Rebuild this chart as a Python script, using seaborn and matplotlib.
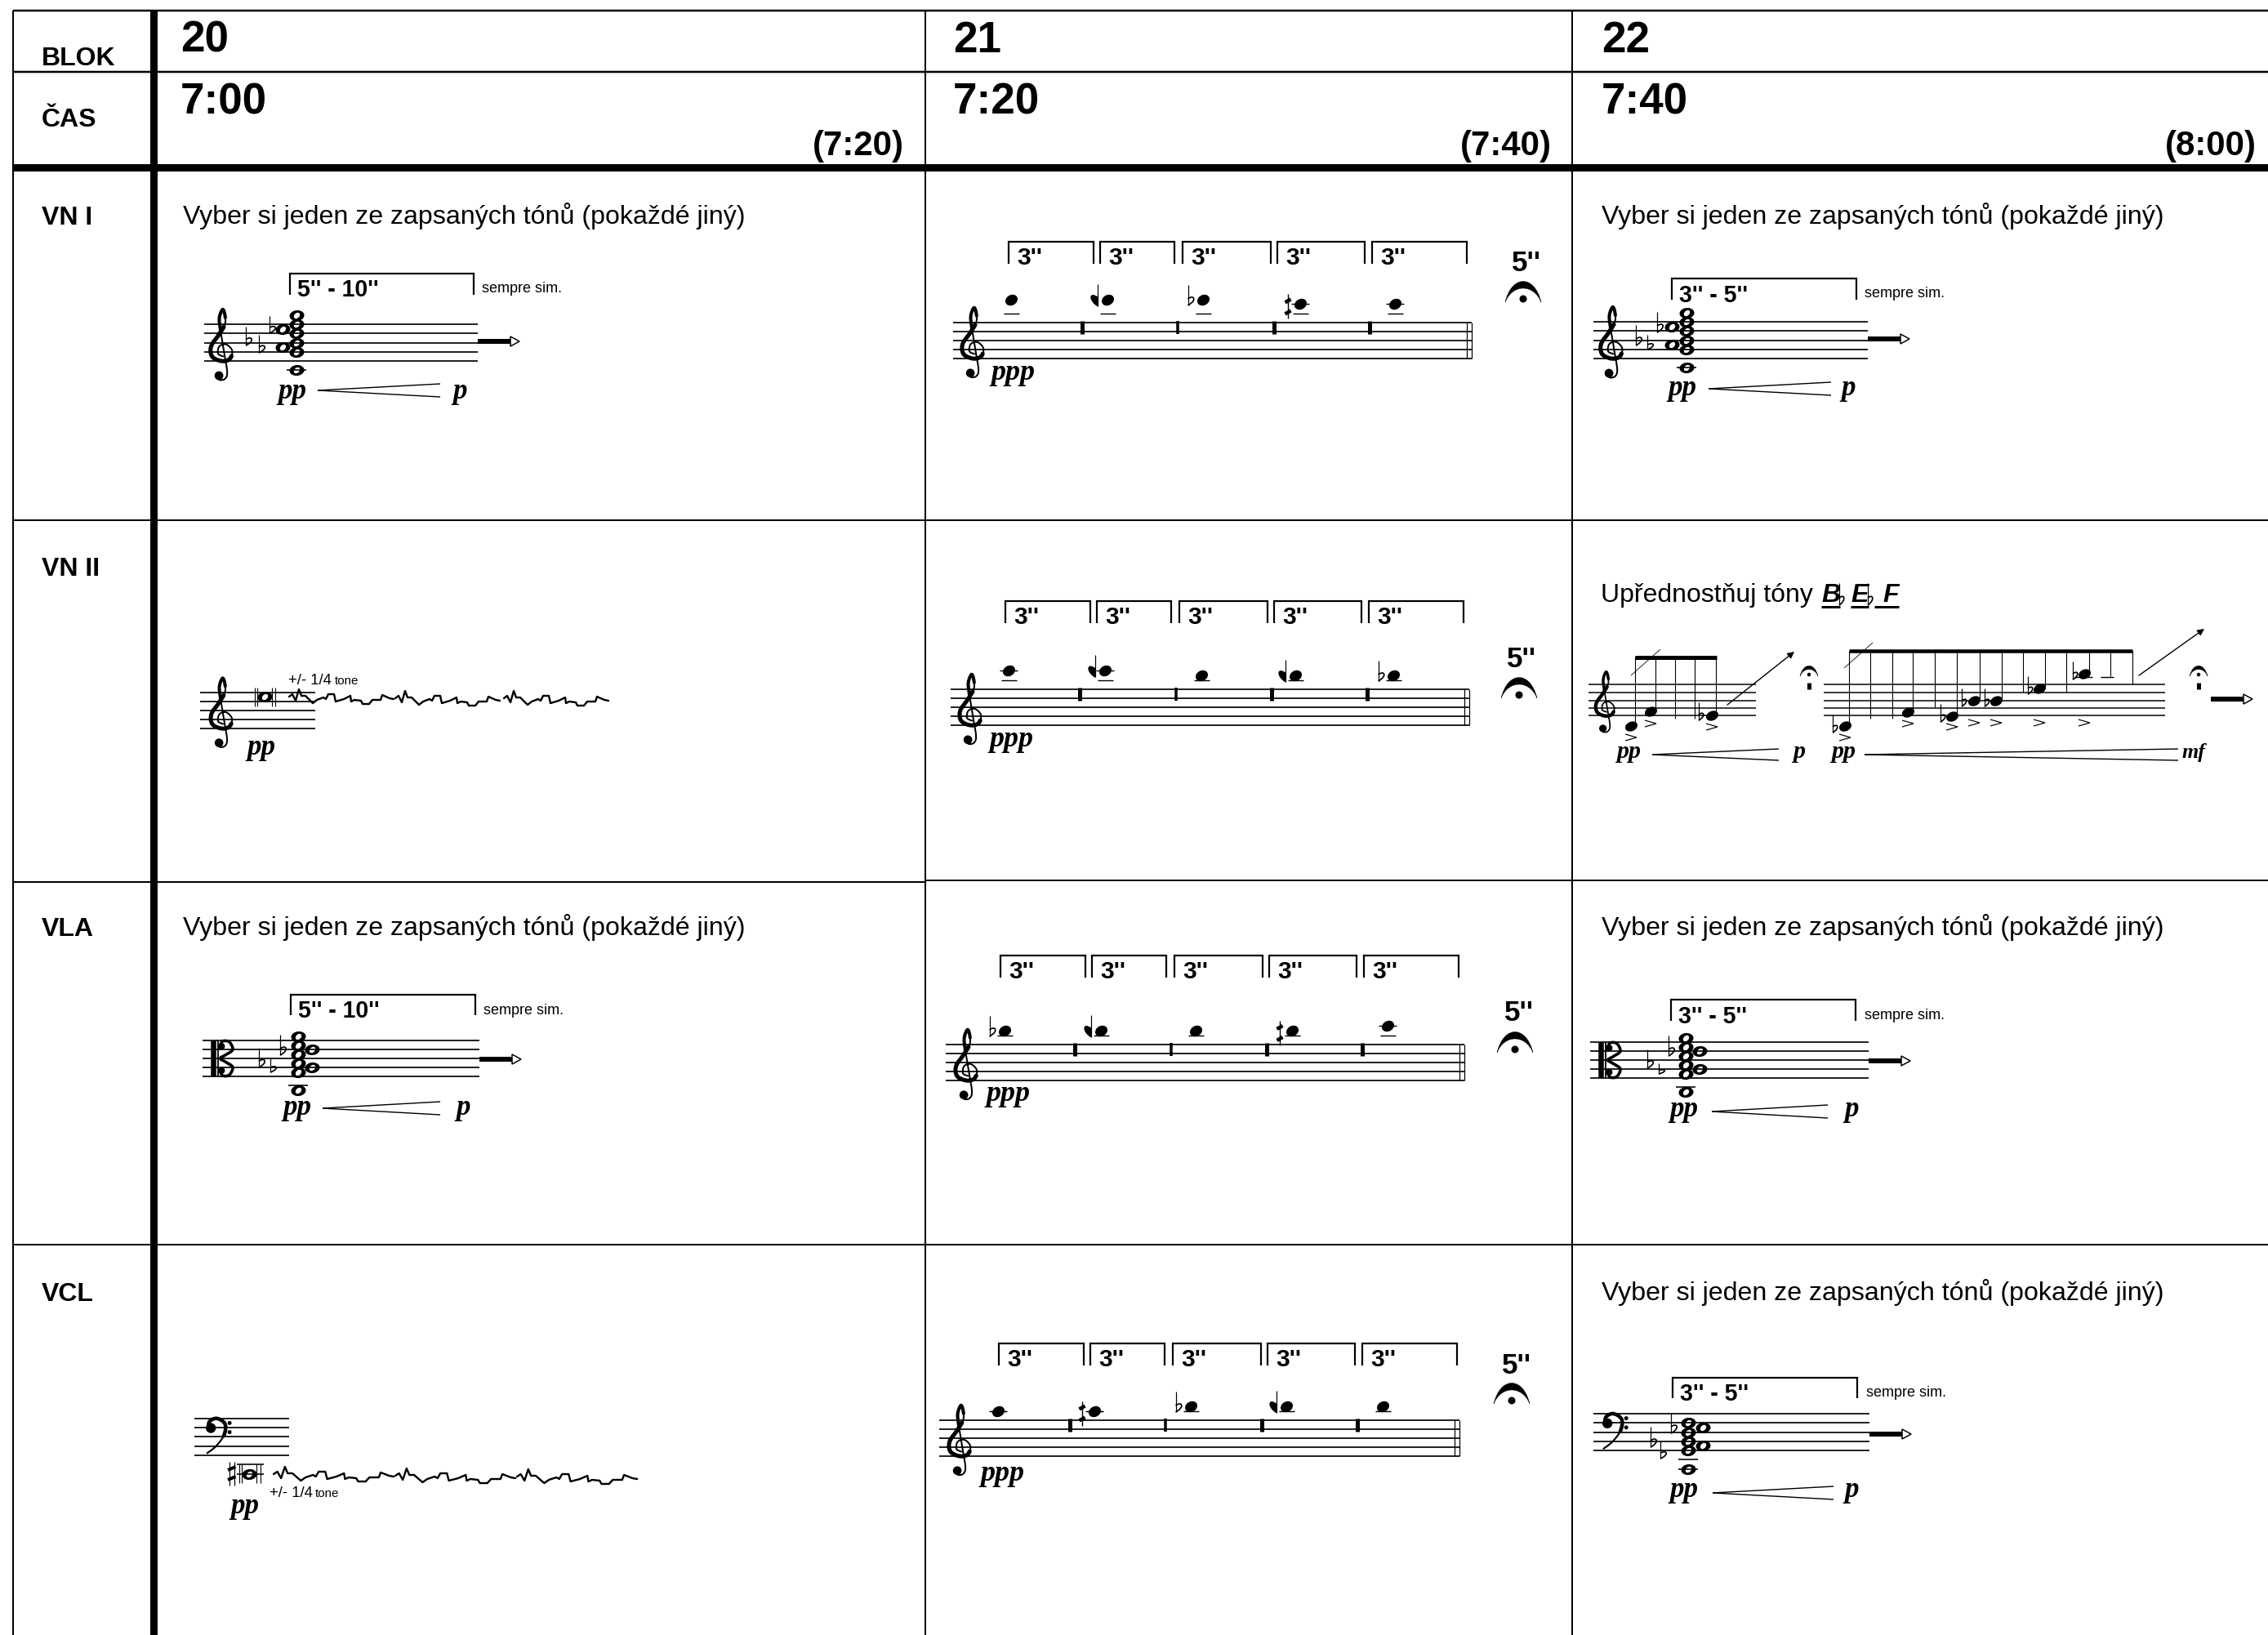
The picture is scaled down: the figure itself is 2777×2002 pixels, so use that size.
import numpy as np
import pandas as pd
import seaborn as sns
import matplotlib.pyplot as plt
from matplotlib.path import Path
from matplotlib.patches import PathPatch, Polygon, Circle
from matplotlib.markers import MarkerStyle

PT = 0.72  # one pixel in points at dpi 100

# table contents
blocks = ["20", "21", "22"]
times = ["7:00", "7:20", "7:40"]
next_times = ["(7:20)", "(7:40)", "(8:00)"]
instruments = ["VN I", "VN II", "VLA", "VCL"]
instrument_base = [275, 705, 1146, 1593]
column_lines = [1133, 1925]
column_text_x = [221, 1167, 1961]
next_time_right = [1107, 1900, 2763]
row_lines = [637, 1524]
choose_text = "Vyber si jeden ze zapsaných tónů (pokaždé jiný)"

# chord cells (20 and 22)
chord_cells = [
    dict(staff=(250, 585), bottom=442, space=11.25, clef="treble", clef_x=272, bracket=(355, 580, 335, 361), label="5'' - 10''", sim=(590, 358),
         chord_x=363, main=[10, 8, 6, 4, 2], off_x=346, off=[7, 3], low=-2, ledgers=[-2], label_base=363,
         flats=[(301, 400, 423), (317, 410, 432), (330, 387, 408)], arrow=418, pp=(341, 488), hairpin=(389, 539, 478, 8), p=554),
    dict(staff=(1951, 2287), bottom=439, space=11.25, clef="treble", clef_x=1974, bracket=(2047, 2273, 341, 367), label="3'' - 5''", sim=(2283, 364),
         chord_x=2065, main=[10, 8, 6, 4, 2], off_x=2047, off=[7, 3], low=-2, ledgers=[-2], label_base=370,
         flats=[(2003, 398, 423), (2017, 410, 428), (2029, 382, 407)], arrow=415, pp=(2042, 484), hairpin=(2092, 2242, 476, 8), p=2255),
    dict(staff=(248, 587), bottom=1318, space=11, clef="alto", clef_x=258, bracket=(356, 582, 1218, 1243), label="5'' - 10''", sim=(592, 1242),
         chord_x=365, main=[9, 7, 5, 3, 1], off_x=382, off=[6, 2], low=-3, ledgers=[-2], label_base=1246,
         flats=[(317, 1283, 1307), (331, 1295, 1313), (343, 1267, 1292)], arrow=1297, pp=(347, 1365), hairpin=(395, 539, 1357, 8), p=558),
    dict(staff=(1947, 2288), bottom=1320, space=11, clef="alto", clef_x=1957, bracket=(2046, 2272, 1224, 1250), label="3'' - 5''", sim=(2283, 1248),
         chord_x=2064, main=[9, 7, 5, 3, 1], off_x=2081, off=[6, 2], low=-3, ledgers=[-2], label_base=1253,
         flats=[(2017, 1285, 1308), (2031, 1302, 1315), (2043, 1268, 1293)], arrow=1299, pp=(2045, 1367), hairpin=(2096, 2238, 1361, 8), p=2258),
    dict(staff=(1951, 2289), bottom=1776, space=11.25, clef="bass", clef_x=1976, bracket=(2048, 2274, 1687, 1712), label="3'' - 5''", sim=(2285, 1710),
         chord_x=2067, main=[6, 4, 2, 0], off_x=2085, off=[5, 1], low=-4, ledgers=[-2, -4], label_base=1715,
         flats=[(2021, 1747, 1772), (2033, 1765, 1786), (2046, 1730, 1755)], arrow=1756, pp=(2045, 1833), hairpin=(2097, 2245, 1828, 8), p=2258),
]

# five-note cells (21)
melody_cells = [
    dict(staff=(1167, 1802), bottom=439, clef_x=1192, top=296, bot=323, bracket_dx=0, note_x=[1238, 1356, 1473, 1592, 1708], steps=[13, 13, 13, 12, 12],
         accidentals=[None, "rev", "flat", "half", None], bars=[1325, 1442, 1560, 1677], ppp=(1214, 465), five=(1851, 332), dot=(1865, 366)),
    dict(staff=(1164, 1799), bottom=888, clef_x=1189, top=736, bot=763, bracket_dx=-4, note_x=[1235, 1353, 1471, 1586, 1706], steps=[12, 12, 11, 11, 11],
         accidentals=[None, "rev", None, "rev", "flat"], bars=[1322, 1440, 1557, 1674], ppp=(1212, 914), five=(1845, 817), dot=(1860, 851)),
    dict(staff=(1158, 1793), bottom=1323, clef_x=1184, top=1170, bot=1197, bracket_dx=-10, note_x=[1230, 1348, 1464, 1582, 1699], steps=[11, 11, 11, 11, 12],
         accidentals=["flat", "rev", None, "half", None], bars=[1316, 1434, 1551, 1668], ppp=(1208, 1348), five=(1842, 1250), dot=(1855, 1285)),
    dict(staff=(1150, 1787), bottom=1783, clef_x=1176, top=1645, bot=1672, bracket_dx=-12, note_x=[1222, 1340, 1458, 1575, 1693], steps=[10, 10, 11, 11, 11],
         accidentals=[None, "half", "flat", "rev", None], bars=[1310, 1427, 1545, 1662], ppp=(1201, 1813), five=(1839, 1682), dot=(1851, 1715)),
]
melody_brackets = [(1235, 1339), (1347, 1438), (1448, 1556), (1564, 1671), (1680, 1796)]

# tremolo line, one period
wiggle_x = [0, 4, 8, 12, 15, 20, 26, 29, 34, 42, 45, 48, 55, 57, 67, 75, 76, 80, 88, 90, 98, 102, 112, 114, 123, 128]
wiggle_y = [0, -3, 5, -9, -1, -1, 5, 8, 4, 1, 3, -3, -3, 6, 3, -1, 6, 4, 5, 9, 9, 4, 4, -2, 2, 3]

# VN II, cell 22
run1_stems_x = [2002, 2027, 2051, 2075, 2101]
run1_stems_end = [890, 870, 880, 880, 877]
run1_notes_x = [1997, 2021, 2096]
run1_notes_y = [889, 871, 876]
run1_accents_y = [903, 886, 890]
run1_flats_x = [2080]
run1_flats_y = [860]
run2_stems_x = [2264, 2290, 2317, 2342, 2369, 2396, 2424, 2451, 2477, 2504, 2530, 2558, 2584, 2611]
run2_stems_end = [887, 880, 880, 870, 866, 877, 855, 855, 847, 843, 847, 827, 828, 838]
run2_notes_x = [2259, 2336, 2390, 2417, 2444, 2497, 2552]
run2_notes_y = [889, 872, 877, 858, 858, 843, 825]
run2_accents_y = [903, 886, 890, 885, 885, 885, 885]
run2_flats_x = [2244, 2376, 2402, 2430, 2483, 2538]
run2_flats_y = [875, 862, 843, 843, 828, 810]
run_lines = [838, 848, 858, 867, 876]

sns.set_theme(style="white", color_codes=False)
plt.rcParams['font.family'] = ['Liberation Sans', 'DejaVu Sans']

fig = plt.figure(figsize=(27.77, 20.02), dpi=100, facecolor="white")
ax = fig.add_axes([0, 0, 1, 1])


def seg(xs, ys, w=2.0, cap="butt"):
    ax.plot(xs, ys, color="#000000", lw=w * PT, solid_capstyle=cap, solid_joinstyle="miter")


def txt(x, y, s, px, weight="normal", style="normal", family="Liberation Sans", ha="left"):
    ax.text(x, y, s, fontsize=px * PT, fontweight=weight, fontstyle=style, family=family, ha=ha, va="baseline", color="#000000")


def dyn(x, y, s, px=35):
    txt(x, y, s, px, weight="bold", style="italic", family="Liberation Serif")


def smooth(points):
    p = np.array([points[0]] + list(points) + [points[-1]], dtype=float)
    out = []
    for i in range(1, len(p) - 2):
        for t in np.linspace(0, 1, 12, endpoint=False):
            out.append(0.5 * (2 * p[i] + (p[i + 1] - p[i - 1]) * t
                              + (2 * p[i - 1] - 5 * p[i] + 4 * p[i + 1] - p[i + 2]) * t ** 2
                              + (3 * p[i] - p[i - 1] - 3 * p[i + 1] + p[i + 2]) * t ** 3))
    out.append(p[-2])
    return np.array(out)


def treble(x, gline, s):
    pts = [(0.1, 0.5), (-0.45, 0.2), (-0.3, -0.6), (0.45, -0.8), (1.1, -0.1), (0.8, 0.8), (-0.1, 1.0), (-1.1, 0.5), (-1.2, -0.6),
           (-0.4, -1.8), (0.3, -3.0), (0.3, -4.0), (0.05, -4.6), (-0.3, -3.7), (-0.2, -2.5), (0.2, 0.0), (0.55, 2.2), (0.3, 2.95), (-0.3, 3.05), (-0.5, 2.6)]
    c = smooth(pts)
    k = s / 11
    seg(x + c[:, 0] * s, gline + c[:, 1] * s, 2.0 * k, "round")
    seg(x + c[55:118, 0] * s, gline + c[55:118, 1] * s, 5.0 * k, "round")
    seg(x + c[128:170, 0] * s, gline + c[128:170, 1] * s, 4.0 * k, "round")
    ax.add_patch(Circle((x - 0.35 * s, gline + 2.6 * s), 0.48 * s, color="#000000", lw=0))


def bass(x, fline, s):
    c = smooth([(-0.95, 0.1), (-0.85, -0.65), (-0.05, -1.0), (0.85, -0.4), (0.75, 0.8), (-0.1, 2.0), (-1.1, 2.8)])
    seg(x + c[:, 0] * s, fline + c[:, 1] * s, 2.2, "round")
    seg(x + c[:50, 0] * s, fline + c[:50, 1] * s, 4.5, "round")
    ax.add_patch(Circle((x - 0.7 * s, fline + 0.05 * s), 0.55 * s, color="#000000", lw=0))
    for dy in [-0.5, 0.5]:
        ax.add_patch(Circle((x + 1.35 * s, fline + dy * s), 0.22 * s, color="#000000", lw=0))


def alto(x, bottom, s):
    seg([x + 3, x + 3], [bottom - 4 * s, bottom], 6.5)
    seg([x + 9, x + 9], [bottom - 4 * s, bottom], 1.8)
    mid = bottom - 2 * s
    for d in [-1, 1]:
        c = smooth([(1.1, -0.1), (1.75, -0.45), (2.45, -1.0), (2.05, -1.85), (1.3, -1.9), (1.05, -1.3)])
        seg(x + c[:, 0] * s, mid + d * c[:, 1] * s, 3.6, "round")
        ax.add_patch(Circle((x + 1.2 * s, mid + d * 1.35 * s), 0.38 * s, color="#000000", lw=0))


def flat(x, top, bot, w=10.0):
    seg([x, x], [top, bot], 1.2)
    h = (bot - top) * 0.42
    v = [(x, bot - h * 0.75), (x + w * 0.7, bot - h * 1.3), (x + w * 1.2, bot - h * 0.6), (x, bot)]
    ax.add_patch(PathPatch(Path(v, [Path.MOVETO, Path.CURVE4, Path.CURVE4, Path.CURVE4]), fc="none", ec="#000000", lw=1.7 * PT))


def rev_flat(x, y):
    seg([x, x], [y - 19, y + 8], 1.2)
    v = [(x, y - 3), (x - 11, y - 11), (x - 11, y + 2), (x, y + 8), (x, y - 3)]
    ax.add_patch(PathPatch(Path(v, [Path.MOVETO, Path.CURVE4, Path.CURVE4, Path.CURVE4, Path.CLOSEPOLY]), fc="#000000", ec="#000000", lw=0.5))


def half_sharp(x, y):
    seg([x, x], [y - 14, y + 16], 1.4)
    for dy in [-6, 8]:
        seg([x - 3.5, x + 3.5], [y + dy + 2, y + dy - 2], 4.5)


def fermata(x, dot_y, k=1.0):
    v = [(x - 22 * k, dot_y + 4 * k), (x - 14 * k, dot_y - 30 * k), (x + 14 * k, dot_y - 30 * k), (x + 22 * k, dot_y + 4 * k),
         (x + 13 * k, dot_y - 18.7 * k), (x - 13 * k, dot_y - 18.7 * k), (x - 22 * k, dot_y + 4 * k)]
    ax.add_patch(PathPatch(Path(v, [Path.MOVETO] + [Path.CURVE4] * 6), fc="#000000", ec="#000000", lw=0.3))
    ax.add_patch(Circle((x, dot_y), 4.5 * k, color="#000000", lw=0))


def thick_arrow(x0, y):
    seg([x0, x0 + 40], [y, y], 6)
    ax.add_patch(Polygon([(x0 + 40, y - 6), (x0 + 51, y), (x0 + 40, y + 6)], closed=True, fc="white", ec="#000000", lw=1.5 * PT))


def hairpin(x0, x1, y, d):
    seg([x0, x1], [y, y - d], 1.4)
    seg([x0, x1], [y, y + d], 1.4)


def accent(x, y):
    seg([x - 7, x + 7, x - 7], [y - 4, y, y + 4], 1.2)


def bracket(x0, x1, top, bot):
    seg([x0, x0, x1, x1], [bot, top, top, bot], 2.2)


def wiggle(x0, y0, xscale, periods, drift):
    for start, dy in zip(periods, drift):
        df = pd.DataFrame({"x": [x0 + start + v * xscale for v in wiggle_x], "y": [y0 + dy + v for v in wiggle_y]})
        sns.lineplot(data=df, x="x", y="y", sort=False, estimator=None, color="#000000", linewidth=2.4 * PT, ax=ax, legend=False)


def head_marker(a, b, tilt, inner=None):
    t = np.linspace(0, 2 * np.pi, 48)
    r = np.radians(tilt)
    def ell(aa, bb, rot):
        return np.c_[aa * np.cos(t) * np.cos(rot) - bb * np.sin(t) * np.sin(rot), aa * np.cos(t) * np.sin(rot) + bb * np.sin(t) * np.cos(rot)]
    outer = Path(ell(a, b, r), closed=True)
    if inner is None:
        return MarkerStyle(outer)
    hole = Path(ell(inner[0], inner[1], np.radians(inner[2]))[::-1], closed=True)
    return MarkerStyle(Path.make_compound_path(outer, hole))


def heads(xs, ys, marker, px):
    df = pd.DataFrame({"x": xs, "y": ys})
    sns.scatterplot(data=df, x="x", y="y", marker=marker, s=(px * PT) ** 2, color="#000000", linewidth=0, ax=ax, legend=False, zorder=4)


# table grid
seg([16, 2777], [13, 13], 2.5)
seg([16, 2777], [88, 88], 2.5)
seg([16, 2777], [204.5, 204.5], 9)
for y in row_lines:
    seg([16, 2777], [y, y], 2)
seg([16, 1133], [1079.5, 1079.5], 2)
seg([1133, 2777], [1077.5, 1077.5], 2)
seg([16, 16], [13, 2002], 2)
seg([187.5, 187.5], [13, 2002], 9)
for x in column_lines:
    seg([x, x], [13, 2002], 2)

txt(51, 80, "BLOK", 32, weight="bold")
txt(51, 155, "ČAS", 32, weight="bold")
for name, base in zip(instruments, instrument_base):
    txt(51, base, name, 32, weight="bold")
for i in range(3):
    txt(column_text_x[i], 64, blocks[i], 53, weight="bold")
    txt(column_text_x[i], 139, times[i], 53, weight="bold")
    txt(next_time_right[i], 190, next_times[i], 42, weight="bold", ha="right")
for x, base in [(224, 274), (1961, 274), (224, 1145), (1961, 1145), (1961, 1592)]:
    txt(x, base, choose_text, 32.1)

whole_x, whole_y = [], []

# chord cells
for cell in chord_cells:
    b, s = cell["bottom"], cell["space"]
    for k in range(5):
        seg(cell["staff"], [b - k * s, b - k * s], 1.7)
    if cell["clef"] == "treble":
        treble(cell["clef_x"], b - s, s)
    elif cell["clef"] == "alto":
        alto(cell["clef_x"], b, s)
    else:
        bass(cell["clef_x"], b - 3 * s, s)
    x0, x1, top, bot = cell["bracket"]
    bracket(x0, x1, top, bot)
    txt(x0 + 9, cell["label_base"], cell["label"], 28.5, weight="bold")
    txt(cell["sim"][0], cell["sim"][1], "sempre sim.", 18)
    for step in cell["main"]:
        whole_x.append(cell["chord_x"])
        whole_y.append(b - step * s / 2)
    for step in cell["off"]:
        whole_x.append(cell["off_x"])
        whole_y.append(b - step * s / 2)
    whole_x.append(cell["chord_x"])
    whole_y.append(b - cell["low"] * s / 2)
    for step in cell["ledgers"]:
        y = b - step * s / 2
        seg([cell["chord_x"] - 12, cell["chord_x"] + 12], [y, y], 1.6)
    for fx, ft, fb in cell["flats"]:
        flat(fx, ft, fb)
    thick_arrow(cell["staff"][1], cell["arrow"])
    dyn(cell["pp"][0], cell["pp"][1], "pp")
    hairpin(*cell["hairpin"])
    dyn(cell["p"], cell["pp"][1], "p")

# melody cells
mel_x, mel_y = [], []
for cell in melody_cells:
    b = cell["bottom"]
    s = 11.1
    for k in range(5):
        seg(cell["staff"], [b - k * s, b - k * s], 1.7)
    treble(cell["clef_x"], b - s, s)
    for x0, x1 in melody_brackets:
        bracket(x0 + cell["bracket_dx"], x1 + cell["bracket_dx"], cell["top"], cell["bot"])
        txt(x0 + cell["bracket_dx"] + 10, cell["bot"] + 1, "3''", 30, weight="bold")
    for nx, step, acc in zip(cell["note_x"], cell["steps"], cell["accidentals"]):
        y = b - step * s / 2
        mel_x.append(nx)
        mel_y.append(y)
        seg([nx - 9, nx + 10], [b - 5 * s, b - 5 * s], 1.4)
        if step % 2 == 0:
            seg([nx - 11, nx + 11], [y, y], 1.4)
        if acc == "flat":
            flat(nx - 18.5, y - 18, y + 7)
        elif acc == "rev":
            rev_flat(nx - 12, y)
        elif acc == "half":
            half_sharp(nx - 15, y + 2)
    top_line = b - 4 * s
    for bx, w in zip(cell["bars"], [5, 3.5, 5, 5]):
        seg([bx, bx], [top_line - 2, top_line + 14], w)
    right = cell["staff"][1]
    seg([right - 6, right - 6], [top_line, b], 1.2)
    seg([right - 0.5, right - 0.5], [top_line, b], 1.2)
    dyn(cell["ppp"][0], cell["ppp"][1], "ppp", 36)
    txt(cell["five"][0], cell["five"][1], "5''", 35, weight="bold")
    fermata(cell["dot"][0], cell["dot"][1])

# VN II cell 20, held note with tremolo
for k in range(5):
    seg([245, 386], [848 + k * 11, 848 + k * 11], 1.7)
treble(272, 881, 11)
whole_x.append(324)
whole_y.append(853)
for x in [311.5, 314.6, 333, 336.5]:
    seg([x, x], [842, 865], 1.1)
txt(353, 838, "+/- 1/4", 18.5)
txt(410, 838, "tone", 15)
dyn(302, 924, "pp")
wiggle(354, 853, 1.0, [0, 130, 263], [0, 2, 2])

# VCL cell 20, same thing below a bass staff
for k in range(5):
    seg([238, 354], [1737 + k * 11.2, 1737 + k * 11.2], 1.7)
bass(266, 1748, 11.2)
whole_x.append(305)
whole_y.append(1805)
seg([290, 323], [1793, 1793], 1.6)
seg([290, 323], [1805, 1805], 1.6)
for x in [293, 296, 314, 319]:
    seg([x, x], [1793, 1816], 1.1)
for x in [281, 286.5]:
    seg([x, x], [1790, 1819], 1.2)
for y in [1798, 1810]:
    seg([279, 288.5], [y + 2, y - 2], 4)
txt(330, 1833, "+/- 1/4", 18.5)
txt(386, 1833, "tone", 15)
dyn(283, 1853, "pp")
wiggle(335, 1805, 1.15, [0, 149, 298], [0, 2, 3])

# VN II cell 22, two runs
txt(1960, 737, "Upřednostňuj tóny", 32)
txt(2230, 737, "B", 32, weight="bold", style="italic")
txt(2266, 737, "E", 32, weight="bold", style="italic")
txt(2305, 737, "F", 32, weight="bold", style="italic")
flat(2252, 714, 741, 8)
flat(2287, 714, 741, 8)
seg([2230, 2253], [743, 743], 3)
seg([2266, 2288], [743, 743], 3)
seg([2295, 2325], [743, 743], 3)
for y in run_lines:
    seg([1945, 2150], [y, y], 1.5)
    seg([2233, 2651], [y, y], 1.5)
treble(1966, 867, 9.6)
seg([2002, 2102], [804.5, 804.5], 5)
seg([2264, 2611], [797, 797], 4.5)
for x, end in zip(run1_stems_x, run1_stems_end):
    seg([x, x], [804, end], 1.1)
for x, end in zip(run2_stems_x, run2_stems_end):
    seg([x, x], [797, end], 1.1)
seg([1997, 2033], [827, 795], 0.8)
seg([2258, 2293], [818, 787], 0.8)
for x, y in zip(run1_notes_x, run1_accents_y):
    accent(x, y)
for x, y in zip(run2_notes_x, run2_accents_y):
    accent(x, y)
for x, y in zip(run1_flats_x, run1_flats_y):
    flat(x, y, y + 22, 8)
for x, y in zip(run2_flats_x, run2_flats_y):
    flat(x, y, y + 22, 8)
seg([1990, 2004], [888, 888], 1.4)
seg([2540, 2562], [829, 829], 1.4)
seg([2572, 2588], [829, 829], 1.4)
for x0, y0, x1, y1 in [(2115, 863, 2197, 798), (2619, 827, 2699, 770)]:
    ax.annotate("", xy=(x1, y1), xytext=(x0, y0), arrowprops=dict(arrowstyle="-|>", lw=1.4 * PT, color="#000000", mutation_scale=12, shrinkA=0, shrinkB=0))
for x in [2215, 2692]:
    fermata(x, 826, 0.5)
    seg([x, x], [836, 844], 5)
thick_arrow(2707, 856)
dyn(1979, 928, "pp", 30)
hairpin(2023, 2178, 924, 7)
dyn(2195, 928, "p", 30)
dyn(2242, 928, "pp", 30)
hairpin(2283, 2667, 924, 7)
dyn(2672, 928, "mf", 26)

# noteheads
heads(whole_x, whole_y, head_marker(9, 6.5, 6, inner=(4.2, 3, 45)), 18)
heads(mel_x, mel_y, head_marker(7.5, 6, 30), 15)
heads(run1_notes_x + run2_notes_x, run1_notes_y + run2_notes_y, head_marker(7.5, 5.5, 25), 15)

ax.set_xlim(0, 2777)
ax.set_ylim(2002, 0)
ax.axis("off")
fig.savefig("out.png", dpi=100, facecolor="white")
